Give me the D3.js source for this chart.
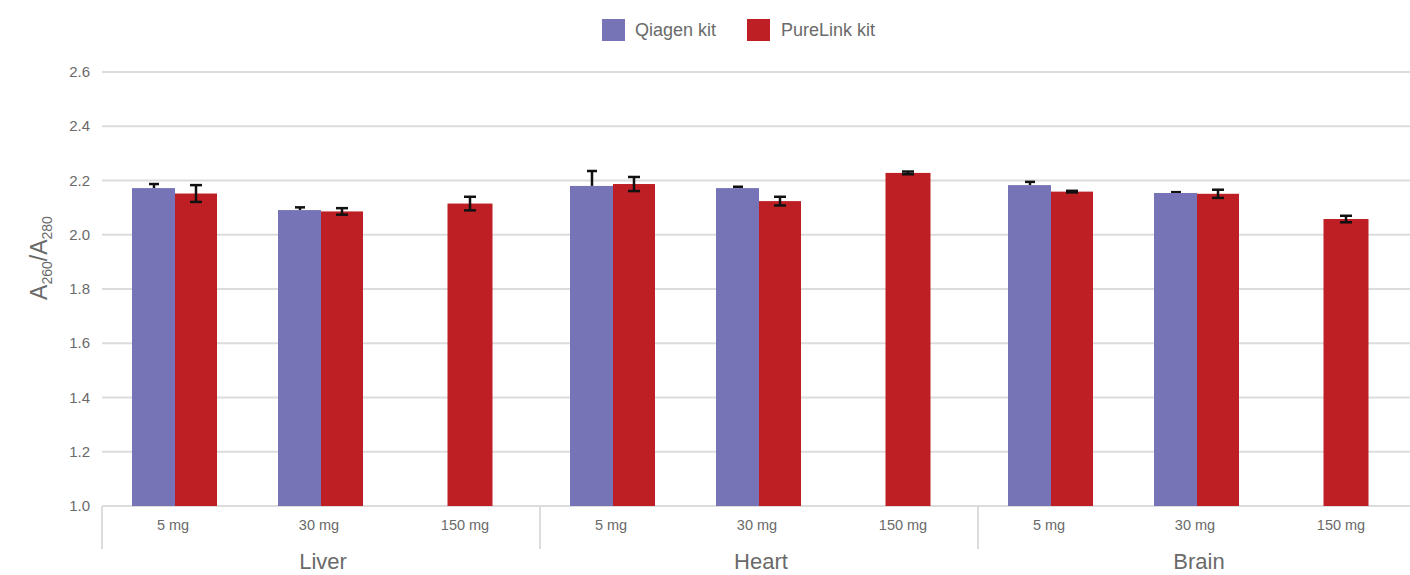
<!DOCTYPE html>
<html><head><meta charset="utf-8">
<script src="https://cdn.jsdelivr.net/npm/d3@7"></script>
<style>body{margin:0;background:#fff}svg{display:block}text{font-family:"Liberation Sans",Arial,sans-serif;fill:#6a6a6a}</style>
</head><body><svg id="c" width="1410" height="575"></svg>
<script>
const groups = ["Liver","Heart","Brain"];
const doses = ["5 mg","30 mg","150 mg"];
const series = ["Qiagen kit","PureLink kit"];
const colors = ["#7674b6","#be1f24"];
const qiagen = [2.172, 2.091, null, 2.18, 2.172, null, 2.183, 2.154, null];
const qiagenErr = [0.015, 0.01, null, 0.055, 0.005, null, 0.012, 0.003, null];
const purelink = [2.152, 2.086, 2.115, 2.187, 2.124, 2.228, 2.159, 2.151, 2.058];
const purelinkErr = [0.031, 0.012, 0.025, 0.026, 0.016, 0.005, 0.003, 0.015, 0.012];
const yTicks = [1.0,1.2,1.4,1.6,1.8,2.0,2.2,2.4,2.6];

const svg = d3.select("#c");
const L=102, R=1416, T=72, B=506;
const keys = [];
groups.forEach(g=>doses.forEach(d=>keys.push(g+"|"+d)));
const x = d3.scaleBand().domain(keys).range([L,R]);
const y = d3.scaleLinear().domain([1.0,2.6]).range([B,T]);
const bw = x.bandwidth();
const barW = 42;

svg.append("g").selectAll("line").data(yTicks).join("line")
  .attr("x1",L).attr("x2",1410).attr("y1",d=>y(d)).attr("y2",d=>y(d))
  .attr("stroke","#dcdcdc").attr("stroke-width",2);
svg.append("g").selectAll("text").data(yTicks).join("text")
  .attr("x",90).attr("y",d=>y(d)+5).attr("text-anchor","end").attr("font-size",15)
  .text(d=>d.toFixed(1));

[0,3,6].forEach(i=>{
  svg.append("line").attr("x1",x(keys[i])).attr("x2",x(keys[i])).attr("y1",B).attr("y2",549)
   .attr("stroke","#dcdcdc").attr("stroke-width",2);
});

const data = keys.map((k,i)=>({k,i,q:qiagen[i],qe:qiagenErr[i],p:purelink[i],pe:purelinkErr[i]}));
const g = svg.append("g");
data.forEach(d=>{
  const cx = x(d.k)+bw/2;
  if(d.q!=null){
    const ex = cx-barW/2;
    g.append("line").attr("x1",ex).attr("x2",ex).attr("y1",y(d.q)).attr("y2",y(d.q+d.qe)).attr("stroke","#111").attr("stroke-width",2.5);
    g.append("line").attr("x1",ex-5).attr("x2",ex+5).attr("y1",y(d.q+d.qe)).attr("y2",y(d.q+d.qe)).attr("stroke","#111").attr("stroke-width",2.5);
    g.append("rect").attr("x",cx-barW-1).attr("y",y(d.q)).attr("width",barW+1).attr("height",B-y(d.q)).attr("fill",colors[0]);
    g.append("rect").attr("x",cx).attr("y",y(d.p)).attr("width",barW).attr("height",B-y(d.p)).attr("fill",colors[1]);
    errFull(cx+barW/2,d.p,d.pe);
  } else {
    const w=45;
    g.append("rect").attr("x",cx-w/2+3).attr("y",y(d.p)).attr("width",w).attr("height",B-y(d.p)).attr("fill",colors[1]);
    errFull(cx+3,d.p,d.pe);
  }
});
function errFull(ex,v,e){
  g.append("line").attr("x1",ex).attr("x2",ex).attr("y1",y(v-e)).attr("y2",y(v+e)).attr("stroke","#111").attr("stroke-width",2.5);
  [v-e,v+e].forEach(t=>g.append("line").attr("x1",ex-6).attr("x2",ex+6).attr("y1",y(t)).attr("y2",y(t)).attr("stroke","#111").attr("stroke-width",2.5));
}

svg.append("g").selectAll("text").data(keys).join("text")
  .attr("x",k=>x(k)+bw/2-2).attr("y",530).attr("text-anchor","middle").attr("font-size",14.5)
  .text(k=>k.split("|")[1]);
svg.append("g").selectAll("text").data(groups).join("text")
  .attr("x",(gname,i)=>x(keys[i*3])+bw*1.5+2).attr("y",569).attr("text-anchor","middle").attr("font-size",22)
  .text(d=>d);

const yl = svg.append("text").attr("transform","translate(47,258) rotate(-90)").attr("text-anchor","middle").attr("font-size",23);
yl.append("tspan").text("A");
yl.append("tspan").attr("font-size",14).attr("dy",5).text("260");
yl.append("tspan").attr("dy",-5).text("/A");
yl.append("tspan").attr("font-size",14).attr("dy",5).text("280");

const leg = [{x:602,tx:635},{x:747,tx:781}];
series.forEach((s,i)=>{
  svg.append("rect").attr("x",leg[i].x).attr("y",19).attr("width",23).attr("height",22).attr("fill",colors[i]);
  svg.append("text").attr("x",leg[i].tx).attr("y",36).attr("font-size",18).text(s);
});
</script></body></html>
